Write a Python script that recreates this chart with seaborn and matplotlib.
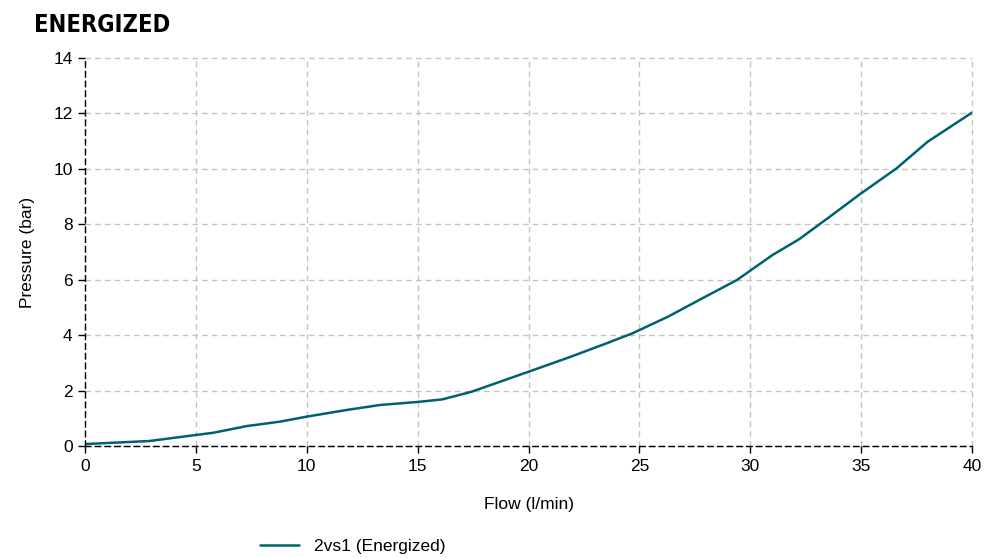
import numpy as np
import pandas as pd
import seaborn as sns
import matplotlib.pyplot as plt

# data
flow = [0, 2.9, 5.8, 7.3, 8.8, 10.0, 11.8, 13.3, 15.0, 16.1, 17.4, 20.0, 21.9, 23.5,
        24.7, 26.3, 27.7, 29.4, 31.0, 32.2, 33.7, 34.9, 36.6, 38.0, 40.0]
pressure = [0.07, 0.18, 0.48, 0.72, 0.88, 1.06, 1.30, 1.48, 1.59, 1.68, 1.95, 2.68, 3.22, 3.70,
            4.07, 4.67, 5.27, 5.99, 6.89, 7.46, 8.34, 9.06, 10.02, 10.98, 12.03]
series_name = "2vs1 (Energized)"

df = pd.DataFrame({"Flow": flow, "Pressure": pressure, "Series": series_name})

sns.set_style("white")
plt.rcParams['font.family'] = ['Liberation Sans', 'DejaVu Sans']
plt.rcParams['text.color'] = 'black'
plt.rcParams['axes.labelcolor'] = 'black'
plt.rcParams['xtick.color'] = 'black'
plt.rcParams['ytick.color'] = 'black'

fig = plt.figure(figsize=(9.85, 5.58), dpi=100)
ax = fig.add_axes([0.0863, 0.2007, 0.9005, 0.6953])

sns.lineplot(data=df, x="Flow", y="Pressure", hue="Series", palette=["#00626f"],
             linewidth=1.8, ax=ax, legend=True, sort=False)

ax.set_xlim(0, 40)
ax.set_ylim(0, 14)
ax.set_xticks(range(0, 41, 5))
ax.set_yticks(range(0, 15, 2))
ax.grid(True, color="#c4c4c4", linestyle=(0, (4, 3)), linewidth=1)
ax.set_axisbelow(True)
# keep the edge grid lines (x=40, y=14) fully visible
for gl in ax.get_xgridlines() + ax.get_ygridlines():
    gl.set_clip_on(False)

for s in ["top", "right"]:
    ax.spines[s].set_visible(False)
for s in ["left", "bottom"]:
    ax.spines[s].set_linestyle((0, (4, 3)))
    ax.spines[s].set_color("black")
    ax.spines[s].set_linewidth(1)
    ax.spines[s].set_zorder(3)

ax.tick_params(axis="both", direction="out", length=5, width=1, color="black",
               labelsize=12.5, bottom=True, left=True, pad=4)
ax.set_xlabel("Flow (l/min)", fontsize=12.5, labelpad=17)
ax.set_ylabel("Pressure (bar)", fontsize=12.5, labelpad=13)

fig.text(0.035, 0.955, "ENERGIZED", fontsize=17, fontweight="bold", va="center",
         ha="left", fontstretch="condensed", family=["DejaVu Sans"])

handles, labels = ax.get_legend_handles_labels()
ax.legend(handles, labels, loc="center", bbox_to_anchor=(0.358, 0.021),
          bbox_transform=fig.transFigure, frameon=False, fontsize=12.5,
          handlelength=2.3, handletextpad=0.85)

fig.savefig("out.png", dpi=100)
